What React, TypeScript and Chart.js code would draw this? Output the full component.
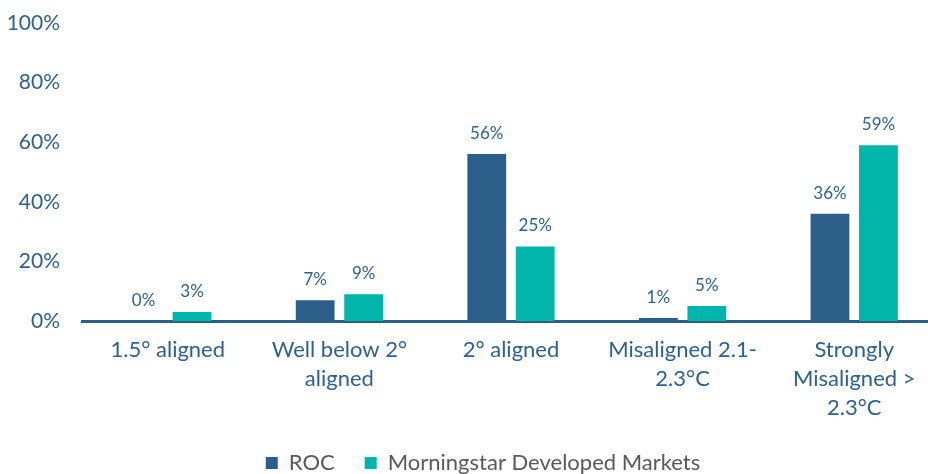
import React, { useEffect, useRef } from "react";
import { Chart, registerables } from "chart.js";

Chart.register(...registerables);

const categories: string[][] = [
  ["1.5° aligned"],
  ["Well below 2°", "aligned"],
  ["2° aligned"],
  ["Misaligned 2.1-", "2.3°C"],
  ["Strongly", "Misaligned >", "2.3°C"],
];
const rocValues = [0, 7, 56, 1, 36];
const msciValues = [3, 9, 25, 5, 59];
const seriesNames = ["ROC", "Morningstar Developed Markets"];
const yTickValues = [0, 20, 40, 60, 80, 100];

const BLUE = "#2B5F8A";
const TEAL = "#00B5AA";
const TEXT = "#2E6190";
const FONT = "Lato, 'Open Sans', sans-serif";

const dataLabelPlugin = {
  id: "dataLabels",
  afterDatasetsDraw(chart: any) {
    const ctx = chart.ctx;
    ctx.save();
    ctx.font = `17px ${FONT}`;
    ctx.fillStyle = TEXT;
    ctx.textAlign = "center";
    ctx.textBaseline = "bottom";
    chart.data.datasets.forEach((ds: any, i: number) => {
      const meta = chart.getDatasetMeta(i);
      meta.data.forEach((bar: any, j: number) => {
        ctx.fillText(`${ds.data[j]}%`, bar.x, bar.y - 12);
      });
    });
    ctx.restore();
  },
};

export default function App() {
  const ref = useRef<HTMLCanvasElement | null>(null);
  useEffect(() => {
    if (!ref.current) return;
    const chart = new Chart(ref.current, {
      type: "bar",
      data: {
        labels: categories,
        datasets: [
          { label: seriesNames[0], data: rocValues, backgroundColor: BLUE, yAxisID: "y" },
          { label: seriesNames[1], data: msciValues, backgroundColor: TEAL, yAxisID: "y" },
        ],
      },
      options: {
        responsive: false,
        animation: false,
        devicePixelRatio: 1,
        layout: { padding: { top: 23, right: 0, left: 0, bottom: 0 } },
        datasets: { bar: { categoryPercentage: 0.565, barPercentage: 0.8 } },
        plugins: {
          legend: {
            position: "bottom",
            maxHeight: 52,
            labels: {
              boxWidth: 12,
              boxHeight: 12,
              padding: 30,
              color: "#595959",
              font: { family: FONT, size: 22 },
            },
          },
          tooltip: { enabled: false },
        },
        scales: {
          x: {
            grid: { display: false, drawTicks: false },
            border: { display: true, color: BLUE, width: 3 },
            ticks: {
              color: TEXT,
              padding: 14,
              maxRotation: 0,
              autoSkip: false,
              font: { family: FONT, size: 22, lineHeight: 1.32 },
            },
            afterFit: (s: any) => {
              s.height = 101;
            },
          },
          y: {
            position: "left",
            min: 0,
            max: 100,
            grid: { display: false, drawTicks: true, tickLength: 20 },
            border: { display: false },
            afterBuildTicks: (s: any) => {
              s.ticks = yTickValues.map((v) => ({ value: v }));
            },
            ticks: {
              color: TEXT,
              padding: 2,
              font: { family: FONT, size: 21 },
              callback: (v: any) => `${v}%`,
            },
            afterFit: (s: any) => {
              s.width = 82;
            },
          },
          spacer: {
            type: "linear",
            position: "right",
            min: 0,
            max: 100,
            grid: { display: false, drawTicks: false },
            border: { display: false },
            ticks: { display: false },
            afterFit: (s: any) => {
              s.width = 26;
            },
          },
        },
      },
      plugins: [dataLabelPlugin],
    });
    return () => chart.destroy();
  }, []);
  return (
    <div
      style={{
        position: "absolute",
        left: 0,
        top: 0,
        width: 928,
        height: 474,
        overflow: "hidden",
        background: "#fff",
      }}
    >
      <canvas ref={ref} width={966} height={474} style={{ display: "block" }} />
    </div>
  );
}
